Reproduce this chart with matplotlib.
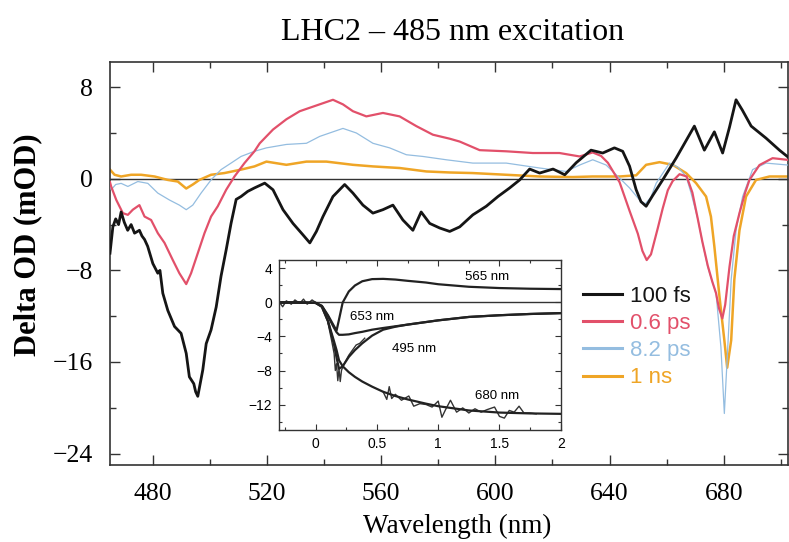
import matplotlib.pyplot as plt
from matplotlib.ticker import MultipleLocator
import numpy as np

# ---- main spectra (wavelength nm, delta OD mOD) ----
fs100_x = [465.0, 466.0, 467.0, 468.0, 468.9, 470.0, 471.2, 472.4, 473.6, 475.3,
           476.2, 477.1, 478.2, 480.0, 481.75, 482.5, 483.5, 485.25, 487.6, 489.9,
           491.7, 492.8, 494.35, 495.0, 495.75, 497.5, 498.7, 500.4, 502.2, 503.9,
           505.7, 507.4, 509.2, 510.9, 513.25, 515.6, 519.2, 522.1, 525.6, 529.1,
           532.6, 535.0, 537.3, 539.6, 543.1, 547.2, 550.1, 553.6, 557.1, 560.6,
           564.1, 567.6, 571.1, 574.0, 577.0, 580.5, 584.0, 587.5, 592.1, 596.8,
           600.9, 605.0, 608.5, 612.0, 615.5, 620.2, 624.3, 628.3, 633.5, 637.6,
           641.7, 644.6, 647.0, 649.3, 651.0, 652.8, 655.0, 658.6, 663.3, 666.5,
           669.7, 673.2, 676.7, 679.6, 682.0, 684.3, 686.5, 689.6, 694.8, 699.5, 702.5]
fs100_y = [-6.5, -4.2, -3.5, -4.0, -2.9, -3.8, -4.5, -4.0, -4.75, -4.5,
           -5.0, -5.3, -5.9, -7.4, -8.25, -8.0, -10.0, -11.5, -12.9, -13.5,
           -15.25, -17.3, -17.9, -18.6, -19.0, -16.7, -14.4, -13.2, -11.2, -8.5,
           -6.2, -3.9, -1.8, -1.55, -1.1, -0.8, -0.38, -0.96, -2.7, -3.9,
           -4.9, -5.6, -4.6, -3.3, -1.55, -0.5, -1.25, -2.3, -3.0, -2.7,
           -2.3, -3.6, -4.5, -2.9, -3.9, -4.3, -4.6, -4.2, -3.15, -2.4,
           -1.55, -0.8, -0.1, 0.85, 0.5, 0.85, 0.35, 1.4, 2.5, 2.25,
           2.7, 2.4, 1.1, -0.95, -2.0, -2.4, -1.5, -0.1, 1.8, 3.2,
           4.6, 2.5, 4.1, 2.25, 4.5, 6.9, 6.0, 4.6, 3.55, 2.5, 1.9]

ps06_x = [465.0, 465.4, 467.2, 469.5, 471.25, 473.0, 475.3, 477.1, 479.4, 481.75,
          484.1, 487.0, 489.3, 491.7, 493.4, 495.75, 498.1, 500.4, 502.75, 505.7,
          508.6, 512.1, 515.6, 517.45, 522.1, 526.8, 531.45, 536.1, 539.6, 543.1,
          546.6, 550.1, 554.8, 560.6, 566.45, 572.3, 578.1, 584.0, 587.5, 594.5,
          603.8, 613.1, 622.45, 629.5, 634.1, 637.0, 639.4, 643.5, 647.0, 649.9,
          651.5, 653.0, 654.5, 656.9, 658.6, 660.4, 662.1, 664.5, 667.0, 669.0,
          670.9, 672.5, 674.4, 676.0, 677.3, 678.3, 679.5, 680.5, 682.0, 683.5,
          685.5, 687.5, 689.0, 692.5, 697.1, 702.5]
ps06_y = [-0.3, -0.67, -1.85, -3.0, -3.15, -2.7, -2.3, -3.3, -3.6, -4.75,
          -5.6, -7.1, -8.25, -9.2, -8.25, -6.5, -4.75, -3.3, -2.4, -0.96,
          0.2, 1.37, 2.4, 3.1, 4.3, 5.2, 5.9, 6.3, 6.6, 6.9,
          6.5, 5.9, 5.45, 5.75, 5.45, 4.6, 3.85, 3.5, 3.25, 2.5,
          2.4, 2.25, 2.25, 1.95, 2.3, 2.0, 1.4, -0.3, -2.8, -4.8,
          -6.3, -7.1, -6.6, -4.3, -2.6, -1.0, -0.2, 0.4, 0.2, -1.2,
          -3.5, -5.5, -7.6, -9.0, -10.0, -11.3, -12.2, -11.0, -7.7, -5.0,
          -3.0, -1.2, -0.1, 1.2, 1.8, 1.65]

ps82_x = [465.0, 465.4, 467.0, 468.9, 471.25, 474.75, 478.25, 481.75, 485.8, 489.3,
          491.7, 494.0, 496.9, 500.4, 503.9, 507.4, 510.9, 515.6, 519.8, 526.8,
          533.8, 538.45, 543.1, 546.6, 551.3, 557.1, 562.95, 568.8, 574.6, 582.8,
          592.1, 603.8, 615.5, 624.8, 629.5, 634.1, 638.8, 643.5, 647.0, 650.5,
          652.5, 654.5, 656.3, 661.0, 664.0, 666.8, 668.5, 670.9, 672.5, 674.4,
          676.0, 677.3, 679.0, 680.2, 681.4, 682.6, 684.3, 686.6, 690.1, 694.8, 702.5]
ps82_y = [-0.5, -0.96, -0.5, -0.4, -0.67, -0.24, -0.4, -1.25, -1.85, -2.3,
          -2.7, -2.3, -1.25, -0.1, 0.8, 1.37, 1.95, 2.4, 2.7, 3.0,
          3.1, 3.7, 4.1, 4.4, 4.0, 3.1, 2.7, 2.1, 1.95, 1.66,
          1.37, 1.37, 0.94, 0.64, 1.2, 1.66, 1.2, 0.06, -0.8, -1.85,
          -2.2, -1.6, -0.4, 1.37, 1.0, 0.2, -1.2, -3.5, -5.5, -7.7,
          -9.0, -10.0, -14.7, -20.5, -14.7, -8.8, -4.5, -1.55, 0.8, 1.37, 1.2]

ns1_x = [465.0, 466.6, 468.9, 472.4, 475.9, 480.6, 485.25, 488.75, 491.7, 494.0,
         496.3, 500.4, 505.1, 510.9, 515.6, 519.8, 526.8, 533.8, 540.8, 550.1,
         557.1, 566.45, 575.8, 584.0, 592.0, 603.8, 615.5, 627.1, 634.0, 643.5,
         649.3, 652.8, 657.5, 662.1, 666.8, 670.3, 673.8, 675.5, 676.7, 678.5,
         680.2, 681.2, 682.6, 683.7, 685.5, 687.8, 691.3, 696.0, 702.5]
ns1_y = [0.8, 0.35, 0.2, 0.35, 0.35, 0.2, -0.1, -0.24, -0.85, -0.5,
         -0.1, 0.35, 0.5, 0.8, 1.08, 1.5, 1.22, 1.5, 1.5, 1.22,
         1.08, 0.94, 0.64, 0.55, 0.5, 0.35, 0.2, 0.15, 0.2, 0.2,
         0.3, 1.22, 1.45, 1.22, 0.5, -0.38, -1.55, -3.3, -5.9, -10.3,
         -14.1, -16.5, -14.1, -8.8, -4.5, -1.55, -0.1, 0.2, 0.2]

labels = ['100 fs', '0.6 ps', '8.2 ps', '1 ns']

# ---- inset kinetics (time ps, delta OD mOD) ----
t_fit = [-0.3, -0.15, 0.0, 0.05, 0.1, 0.15, 0.17, 0.19, 0.22, 0.27, 0.32,
         0.38, 0.46, 0.55, 0.65, 0.75, 0.9, 1.0, 1.25, 1.5, 1.75, 2.0]
fit_565 = [0, 0, -0.05, -0.4, -1.5, -2.8, -3.3, -2.0, 0.0, 1.3, 2.0,
           2.5, 2.75, 2.78, 2.7, 2.55, 2.35, 2.15, 1.85, 1.7, 1.62, 1.58]
fit_653 = [0, 0, -0.05, -0.4, -1.6, -3.0, -3.5, -3.8, -3.8, -3.75, -3.6,
           -3.45, -3.2, -3.0, -2.8, -2.6, -2.3, -2.1, -1.7, -1.5, -1.35, -1.25]
fit_495 = [0, 0, -0.05, -0.5, -2.2, -5.0, -6.5, -7.8, -7.5, -6.4, -5.6,
           -4.8, -3.9, -3.2, -2.85, -2.6, -2.3, -2.1, -1.7, -1.5, -1.35, -1.25]
fit_680 = [0, 0, -0.05, -0.5, -2.2, -4.6, -5.6, -6.8, -7.5, -8.2, -8.75,
           -9.3, -9.9, -10.5, -11.0, -11.4, -11.9, -12.2, -12.7, -12.95, -13.05, -13.1]

base_t = [-0.3, -0.27, -0.24, -0.2, -0.17, -0.13, -0.1, -0.07, -0.03, 0.0, 0.03]
base_v = [0.1, -0.5, 0.2, -0.2, 0.3, -0.1, 0.4, -0.2, 0.3, 0.0, -0.3]

d495_t = [0.1, 0.13, 0.15, 0.16, 0.17, 0.18, 0.19, 0.2, 0.21, 0.22, 0.24,
          0.27, 0.3, 0.33, 0.36, 0.4]
d495_v = [-2.4, -4.5, -6.0, -8.0, -7.2, -9.2, -7.8, -9.3, -8.0, -7.6, -7.0,
          -6.2, -5.6, -5.0, -4.8, -4.2]

d680_t = [0.55, 0.58, 0.6, 0.62, 0.65, 0.7, 0.76, 0.8, 0.85, 0.9, 0.95, 1.0,
          1.03, 1.06, 1.1, 1.15, 1.2, 1.25, 1.3, 1.35, 1.4, 1.46, 1.5, 1.54,
          1.58, 1.62, 1.66, 1.7, 1.75, 1.8]
d680_v = [-10.5, -11.4, -9.9, -11.3, -10.8, -11.5, -11.0, -12.2, -11.9, -12.0,
          -12.3, -11.6, -13.5, -12.6, -11.5, -12.9, -12.4, -13.0, -12.5, -12.9,
          -12.6, -12.3, -13.4, -13.6, -12.7, -12.9, -12.2, -13.0, -13.0, -13.1]

kin_labels = ['565 nm', '653 nm', '495 nm', '680 nm']
kin_label_pos = [(1.40, 3.0), (0.46, -1.7), (0.80, -5.5), (1.48, -11.0)]

serif = 'Liberation Serif'
sans = 'Liberation Sans'

fig = plt.figure(figsize=(7.89, 5.42), dpi=100)
ax = fig.add_axes([110 / 789, 77 / 542, 678 / 789, 403 / 542])

colors = ['#151515', '#e2506a', '#94bde0', '#efa526']
widths = [2.0, 1.6, 0.9, 1.8]
ax.axhline(0, color='#333333', lw=1.0, zorder=1)
series = [(fs100_x, fs100_y), (ps06_x, ps06_y), (ps82_x, ps82_y), (ns1_x, ns1_y)]
order = [3, 2, 1, 0]
lines = {}
for i in order:
    x, y = series[i]
    lines[i], = ax.plot(x, y, color=colors[i], lw=widths[i], label=labels[i], zorder=2 + (3 - i))

ax.set_xlim(465, 702.5)
ax.set_ylim(-25, 10.2)
ax.set_xticks([480, 520, 560, 600, 640, 680])
ax.set_yticks([-24, -16, -8, 0, 8])
ax.xaxis.set_minor_locator(MultipleLocator(20))
ax.yaxis.set_minor_locator(MultipleLocator(4))
ax.tick_params(which='both', direction='in', top=True, right=True, width=1.0, color='#333333')
ax.tick_params(which='major', length=7)
ax.tick_params(which='minor', length=4)
ax.tick_params(axis='x', pad=13)
ax.tick_params(axis='y', pad=12)
for lab in ax.get_xticklabels() + ax.get_yticklabels():
    lab.set_fontfamily(serif)
    lab.set_fontsize(18.5)
for sp in ax.spines.values():
    sp.set_linewidth(1.2)
    sp.set_color('#333333')

leg = ax.legend([lines[i] for i in range(4)], labels, loc='upper left',
                bbox_to_anchor=(0.6976, 0.445), frameon=False, borderpad=0,
                borderaxespad=0, handlelength=1.75, handletextpad=0.35,
                labelspacing=0.28, prop={'family': sans, 'size': 16})
for txt, c in zip(leg.get_texts(), colors):
    txt.set_color(c)
for h in leg.legend_handles:
    h.set_linewidth(2.2)

fig.text(453 / 789, 1 - 33 / 542, 'LHC2 \u2013 485 nm excitation', family=serif,
         fontsize=23, ha='center', va='center')
fig.text(457 / 789, 1 - 526 / 542, 'Wavelength (nm)', family=serif,
         fontsize=19.5, ha='center', va='center')
fig.text(28 / 789, 1 - 245 / 542, 'Delta OD (mOD)', family=serif,
         fontsize=22, fontweight='bold', rotation=90, ha='center', va='center')

# ---- inset ----
ins = fig.add_axes([279 / 789, 112 / 542, 281.7 / 789, 170 / 542])
ins.set_facecolor('white')
ins.axhline(0, color='#333333', lw=1.0)
ins.plot(base_t, base_v, color='#333333', lw=1.0)
ins.plot(d495_t, d495_v, color='#333333', lw=1.0)
ins.plot(d680_t, d680_v, color='#333333', lw=1.0)
for fit in [fit_565, fit_653, fit_495, fit_680]:
    ins.plot(t_fit, fit, color='#222222', lw=1.6)
for lab, (tx, ty) in zip(kin_labels, kin_label_pos):
    ins.text(tx, ty, lab, family=sans, fontsize=9.5, ha='center', va='center')
ins.set_xlim(-0.3, 2.0)
ins.set_ylim(-15, 5)
ins.set_xticks([0, 0.5, 1, 1.5, 2])
ins.set_xticklabels(['0', '0.5', '1', '1.5', '2'])
ins.set_yticks([-12, -8, -4, 0, 4])
ins.xaxis.set_minor_locator(MultipleLocator(0.25))
ins.yaxis.set_minor_locator(MultipleLocator(2))
ins.tick_params(which='both', direction='in', top=True, right=True, width=0.8, color='#333333')
ins.tick_params(which='major', length=4, pad=5)
ins.tick_params(which='minor', length=2.5)
for lab in ins.get_xticklabels() + ins.get_yticklabels():
    lab.set_fontfamily(sans)
    lab.set_fontsize(10)
for sp in ins.spines.values():
    sp.set_linewidth(1.0)
    sp.set_color('#333333')

fig.savefig('out.png', dpi=100)
